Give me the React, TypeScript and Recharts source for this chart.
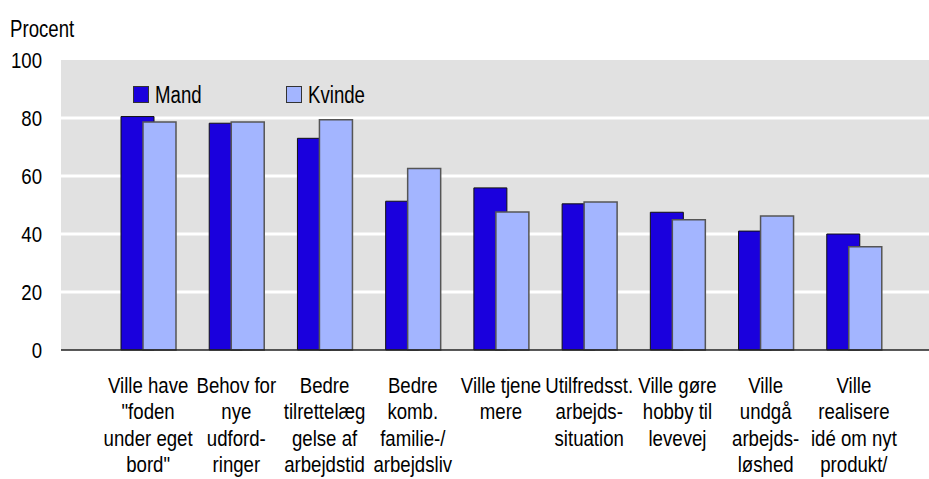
import React from 'react';
import { BarChart, Bar, XAxis, YAxis, CartesianGrid } from 'recharts';

const categories = [
    'Ville have\n"foden\nunder eget\nbord"',
    'Behov for\nnye\nudford-\nringer',
    'Bedre\ntilrettelæg\ngelse af\narbejdstid',
    'Bedre\nkomb.\nfamilie-/\narbejdsliv',
    'Ville tjene\nmere',
    'Utilfredsst.\narbejds-\nsituation',
    'Ville gøre\nhobby til\nlevevej',
    'Ville\nundgå\narbejds-\nløshed',
    'Ville\nrealisere\nidé om nyt\nprodukt/',
];
const mand = [80.5, 78.2, 73.0, 51.3, 55.9, 50.4, 47.5, 41.0, 40.0];
const kvinde = [78.6, 78.6, 79.4, 62.6, 47.6, 51.0, 44.9, 46.2, 35.6];
const yTicks = [0, 20, 40, 60, 80, 100];

// no Arial Narrow here, so squeeze Liberation Sans horizontally
const FONT = "'Liberation Sans', Arial, sans-serif";
const FS = 23;
const SQ = 0.81;
const MAND_COLOR = '#1a00dd';
const KVINDE_COLOR = '#a3b5ff';

const data = categories.map((c, i) => ({ name: c, mand: mand[i], kvinde: kvinde[i] }));

const XTick = (props: any) => {
    const { x, y, payload } = props;
    const lines: string[] = String(payload.value).split('\n');
    return (
        <g transform={`translate(${x},${y}) scale(${SQ},1)`}>
            <text x={0} y={0} textAnchor="middle" fontFamily={FONT} fontSize={FS} fill="#000">
                {lines.map((l, i) => (
                    <tspan key={i} x={0} dy={i === 0 ? 43 : 26.3}>{l}</tspan>
                ))}
            </text>
        </g>
    );
};

const YTick = (props: any) => {
    const { x, y, payload } = props;
    return (
        <g transform={`translate(${x},${y}) scale(${SQ},1)`}>
            <text x={0} y={0} dy={8} textAnchor="end" fontFamily={FONT} fontSize={FS} fill="#000">
                {payload.value}
            </text>
        </g>
    );
};

const narrow: React.CSSProperties = {
    fontFamily: FONT,
    fontSize: FS,
    transform: `scaleX(${SQ})`,
    transformOrigin: 'left center',
    whiteSpace: 'nowrap',
    lineHeight: 1,
};

const legendItems = [
    { label: 'Mand', color: MAND_COLOR, left: 133 },
    { label: 'Kvinde', color: KVINDE_COLOR, left: 286 },
];

export default function App() {
    return (
        <div style={{ position: 'absolute', left: 0, top: 0, width: 929, height: 479, background: '#fff' }}>
            <div style={{ position: 'absolute', left: 10, top: 18, ...narrow }}>Procent</div>
            <BarChart
                width={929}
                height={479}
                data={data}
                margin={{ top: 60, right: 0, bottom: 0, left: 0 }}
                barSize={33}
                barGap={-11}
            >
                <CartesianGrid
                    vertical={false}
                    fill="#e1e1e1"
                    stroke="#fff"
                    strokeWidth={3}
                    horizontalValues={[20, 40, 60, 80]}
                />
                <XAxis
                    dataKey="name"
                    interval={0}
                    tick={<XTick />}
                    tickLine={false}
                    tickSize={0}
                    tickMargin={0}
                    height={129}
                    padding={{ left: 43, right: 31 }}
                    axisLine={{ stroke: '#222', strokeWidth: 1.5 }}
                />
                <YAxis
                    domain={[0, 100]}
                    ticks={yTicks}
                    width={61}
                    axisLine={false}
                    tickLine={false}
                    tickSize={0}
                    tickMargin={19}
                    tick={<YTick />}
                />
                <Bar dataKey="mand" name="Mand" fill={MAND_COLOR} stroke="#111" strokeWidth={1} isAnimationActive={false} />
                <Bar dataKey="kvinde" name="Kvinde" fill={KVINDE_COLOR} stroke="#555" strokeWidth={1.5} isAnimationActive={false} />
            </BarChart>
            {legendItems.map((it) => (
                <div key={it.label} style={{ position: 'absolute', left: it.left, top: 86, display: 'flex', alignItems: 'center' }}>
                    <div style={{ width: 14, height: 15, background: it.color, border: '1px solid #333' }} />
                    <div style={{ position: 'absolute', left: 22, top: -2, ...narrow }}>{it.label}</div>
                </div>
            ))}
        </div>
    );
}
